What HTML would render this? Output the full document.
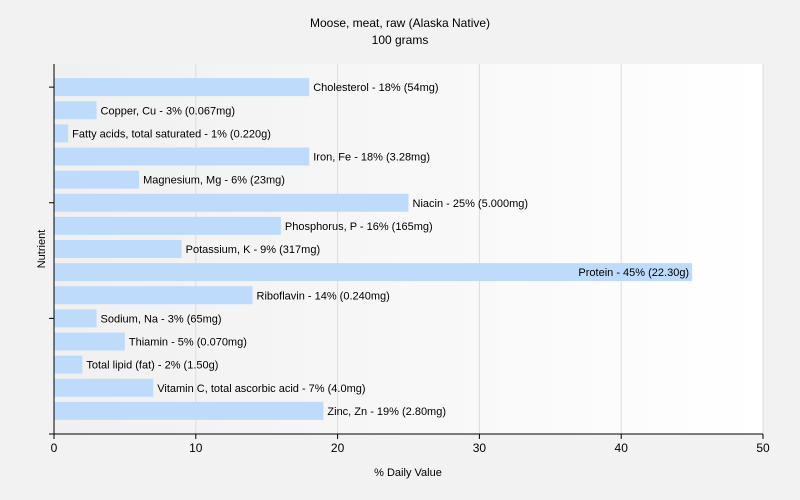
<!DOCTYPE html>
<html><head><meta charset="utf-8"><style>
body{margin:0;background:#f2f2f2;}
svg{display:block;font-family:"Liberation Sans",Arial,sans-serif;}
</style></head><body>
<svg width="800" height="500" viewBox="0 0 800 500">
<defs><linearGradient id="bg" x1="0" x2="1" y1="0" y2="0"><stop offset="0" stop-color="#f0f0f0"/><stop offset="1" stop-color="#ffffff"/></linearGradient></defs>
<rect width="800" height="500" fill="#f2f2f2"/>
<text x="400" y="27" text-anchor="middle" font-size="12" fill="#000">Moose, meat, raw (Alaska Native)</text>
<text x="400" y="44" text-anchor="middle" font-size="12" fill="#000">100 grams</text>
<rect x="54" y="64" width="709" height="370" fill="url(#bg)"/>
<g id="grid"></g><g id="bars"></g><g id="axes"></g>
<text x="45" y="249" text-anchor="middle" font-size="11" transform="rotate(-90 45 249)">Nutrient</text>
<text x="408" y="476" text-anchor="middle" font-size="11">% Daily Value</text>
</svg>
<script>
const categories=["Cholesterol","Copper, Cu","Fatty acids, total saturated","Iron, Fe","Magnesium, Mg","Niacin","Phosphorus, P","Potassium, K","Protein","Riboflavin","Sodium, Na","Thiamin","Total lipid (fat)","Vitamin C, total ascorbic acid","Zinc, Zn"];
const values=[18,3,1,18,6,25,16,9,45,14,3,5,2,7,19];
const amounts=["54mg","0.067mg","0.220g","3.28mg","23mg","5.000mg","165mg","317mg","22.30g","0.240mg","65mg","0.070mg","1.50g","4.0mg","2.80mg"];
const xTicks=[0,10,20,30,40,50];
const NS="http://www.w3.org/2000/svg";
const X0=54,X1=763,Y0=64,Y1=434,XMAX=50;
const band=(Y1-Y0)/(categories.length+1);
function x(v){return X0+(X1-X0)*v/XMAX;}
function yc(i){return Y0+band*(i+1);}
function mk(t,a,p){const e=document.createElementNS(NS,t);for(const k in a)e.setAttribute(k,a[k]);p.appendChild(e);return e;}
const grid=document.getElementById('grid'),bars=document.getElementById('bars'),axes=document.getElementById('axes');
xTicks.forEach(t=>{
 if(t>0){const g=mk('line',{x1:x(t),x2:x(t),y1:Y0,y2:Y1,stroke:'#dcdcdc'},grid);
 
 }
 const tk=mk('line',{x1:x(t),x2:x(t),y1:Y1,y2:Y1+5,stroke:'#000'},axes);
 
 
 const l=mk('text',{x:x(t),y:Y1+18,'text-anchor':'middle','font-size':12,fill:'#000'},axes);
 l.textContent=t;
 
 
});
categories.forEach((c,i)=>{
 const c0=yc(i);
 const r=mk('rect',{x:X0,y:c0-9,width:x(values[i])-X0,height:18,fill:'#bfdbfb'},bars);
 
 
 const label=c+' - '+values[i]+'% ('+amounts[i]+')';
 const inside=x(values[i])+300>X1;
 const t=mk('text',{x:inside?x(values[i])-3:x(values[i])+4,y:c0+4,'text-anchor':inside?'end':'start','font-size':11,fill:'#000'},bars);
 t.textContent=label;
 
 
 if(i%5===0){const tk=mk('line',{x1:X0-5,x2:X0,y1:c0,y2:c0,stroke:'#000'},axes);
 
 }
});
const ya=mk('line',{x1:X0,x2:X0,y1:Y0,y2:Y1,stroke:'#000'},axes);


const xa=mk('line',{x1:X0-5,x2:X1,y1:Y1,y2:Y1,stroke:'#000'},axes);


</script>
</body></html>
